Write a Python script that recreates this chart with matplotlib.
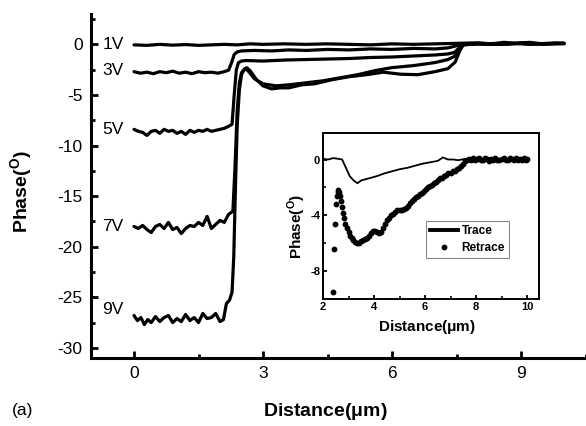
import numpy as np
import matplotlib
matplotlib.use("Agg")
import matplotlib.pyplot as plt
from matplotlib.lines import Line2D

plt.rcParams['font.family'] = ['Liberation Sans', 'DejaVu Sans']
plt.rcParams['mathtext.fontset'] = 'custom'
plt.rcParams['mathtext.rm'] = 'Liberation Sans'
plt.rcParams['mathtext.bf'] = 'Liberation Sans:bold'
plt.rcParams['axes.unicode_minus'] = False

# main panel: phase profiles at different tip voltages
x_1v = [0.0, 0.3, 0.6, 0.9, 1.2, 1.5, 1.8, 2.1, 2.4, 2.7, 3.0, 3.5, 4.0, 4.5, 5.0,
        5.5, 6.0, 6.5, 7.0, 7.5, 8.0, 8.3, 8.6, 8.9, 9.2, 9.5, 9.8, 10.0]
y_1v = [-0.05, -0.1, 0.0, -0.08, -0.02, -0.1, -0.05, 0.0, -0.05, 0.05, 0.0, 0.05, 0.0, 0.05, 0.0,
        -0.05, 0.05, 0.0, 0.05, 0.1, 0.15, 0.05, 0.2, 0.1, 0.2, 0.05, 0.15, 0.1]

x_3v = [0.0, 0.15, 0.3, 0.45, 0.6, 0.75, 0.9, 1.05, 1.2, 1.35, 1.5, 1.65, 1.8, 1.95, 2.1,
        2.2, 2.27, 2.33, 2.4, 2.5, 2.8, 3.2, 3.6, 4.0, 4.5, 5.0, 5.5, 6.0, 6.5, 7.0,
        7.3, 7.45, 7.6, 8.0, 8.4, 8.8, 9.2, 9.6, 10.0]
y_3v = [-2.7, -2.85, -2.75, -2.9, -2.7, -2.8, -2.65, -2.85, -2.75, -2.9, -2.7, -2.8, -2.75, -2.85, -2.7,
        -2.55, -1.8, -1.0, -0.75, -0.65, -0.6, -0.65, -0.55, -0.6, -0.5, -0.55, -0.45, -0.5, -0.4, -0.45,
        -0.35, -0.2, 0.0, 0.05, 0.0, 0.1, 0.0, 0.1, 0.05]

x_5v = [0.0, 0.1, 0.2, 0.3, 0.4, 0.5, 0.6, 0.7, 0.8, 0.9, 1.0, 1.1, 1.2, 1.3, 1.4, 1.5,
        1.6, 1.7, 1.8, 1.9, 2.0, 2.1, 2.2, 2.28, 2.33, 2.38, 2.43, 2.5, 2.6, 3.0, 3.5,
        4.0, 4.5, 5.0, 5.5, 6.0, 6.5, 7.0, 7.3, 7.45, 7.55, 7.65, 8.0, 8.5, 9.0, 9.5, 10.0]
y_5v = [-8.4, -8.6, -8.7, -9.0, -8.6, -8.5, -8.8, -8.4, -8.6, -8.5, -8.8, -8.6, -8.9, -8.5, -8.7, -8.5,
        -8.6, -8.4, -8.6, -8.5, -8.4, -8.3, -8.1, -7.9, -5.0, -2.5, -1.8, -1.65, -1.6, -1.65, -1.55,
        -1.5, -1.45, -1.4, -1.3, -1.25, -1.15, -1.05, -0.95, -0.8, -0.4, 0.0, 0.05, 0.0, 0.1, 0.05, 0.1]

x_7v = [0.0, 0.1, 0.2, 0.3, 0.4, 0.5, 0.6, 0.7, 0.8, 0.9, 1.0, 1.1, 1.2, 1.3, 1.4, 1.5,
        1.6, 1.7, 1.8, 1.9, 2.0, 2.1, 2.2, 2.3, 2.35, 2.4, 2.45, 2.5, 2.58, 2.65, 2.8,
        3.0, 3.3, 3.6, 4.0, 4.4, 4.8, 5.2, 5.6, 6.0, 6.5, 7.0, 7.3, 7.45, 7.55, 7.65,
        8.0, 8.5, 9.0, 9.5, 10.0]
y_7v = [-18.0, -18.2, -17.9, -18.3, -18.6, -18.0, -17.8, -18.2, -17.6, -18.3, -18.1, -18.7, -18.2, -17.9, -18.0, -17.6,
        -17.9, -17.0, -18.2, -17.8, -17.4, -17.6, -16.8, -16.5, -12.0, -6.5, -3.8, -2.8, -2.4, -2.6, -3.4,
        -3.9, -4.1, -4.0, -3.8, -3.6, -3.3, -3.0, -2.6, -2.3, -2.1, -1.8, -1.5, -1.2, -0.5, -0.05,
        0.05, 0.0, 0.1, 0.0, 0.1]

x_9v = [0.0, 0.08, 0.16, 0.24, 0.32, 0.4, 0.5, 0.6, 0.7, 0.8, 0.9, 1.0, 1.1, 1.2, 1.3, 1.4,
        1.5, 1.6, 1.7, 1.8, 1.9, 2.0, 2.08, 2.15, 2.22, 2.28, 2.32, 2.36, 2.4, 2.45, 2.5,
        2.56, 2.62, 2.7, 2.85, 3.0, 3.2, 3.4, 3.6, 3.9, 4.2, 4.6, 5.0, 5.4, 5.8, 6.2,
        6.6, 7.0, 7.3, 7.47, 7.58, 7.66, 8.0, 8.5, 9.0, 9.5, 10.0]
y_9v = [-26.8, -27.3, -27.0, -27.7, -27.2, -27.5, -26.9, -27.4, -27.0, -26.8, -27.5, -27.1, -27.4, -26.7, -27.3, -27.0,
        -27.5, -26.6, -27.1, -27.0, -26.6, -27.4, -27.2, -25.6, -25.3, -24.5, -21.0, -14.0, -8.0, -4.5, -3.0,
        -2.5, -2.3, -2.6, -3.5, -4.1, -4.4, -4.3, -4.3, -4.0, -3.9, -3.5, -3.2, -3.0, -2.75, -2.95,
        -3.0, -2.7, -2.4, -1.75, -0.6, -0.05, 0.1, 0.0, 0.15, 0.05, 0.1]

curves = [(x_1v, y_1v), (x_3v, y_3v), (x_5v, y_5v), (x_7v, y_7v), (x_9v, y_9v)]
volt_labels = ['1V', '3V', '5V', '7V', '9V']
volt_label_y = [0.0, -2.6, -8.4, -18.0, -26.2]

# inset: trace / retrace at one voltage
trace_x = [2.0, 2.2, 2.4, 2.6, 2.75, 2.9, 3.05, 3.2, 3.35, 3.5, 3.8, 4.1, 4.4, 4.7, 5.0,
           5.3, 5.6, 5.9, 6.2, 6.5, 6.7, 6.9, 7.1, 7.3, 7.6, 8.0, 8.5, 9.0, 9.5, 10.0]
trace_y = [0.05, 0.0, 0.1, 0.05, 0.0, -0.6, -1.2, -1.5, -1.7, -1.5, -1.35, -1.2, -1.0, -0.85, -0.7,
           -0.6, -0.45, -0.3, -0.2, -0.1, 0.15, 0.0, 0.0, -0.05, 0.05, 0.0, 0.1, 0.0, 0.05, 0.0]

retrace_x = [2.41, 2.44, 2.47, 2.50, 2.53, 2.57, 2.60, 2.63, 2.66, 2.70, 2.74, 2.78, 2.83, 2.88,
             2.94, 3.00, 3.06, 3.12, 3.18, 3.25, 3.32, 3.40, 3.48, 3.56, 3.64, 3.72, 3.80, 3.88,
             3.96, 4.04, 4.12, 4.20, 4.28, 4.36, 4.44, 4.52, 4.60, 4.68, 4.76, 4.84, 4.92, 5.00,
             5.08, 5.16, 5.24, 5.32, 5.40, 5.48, 5.56, 5.64, 5.72, 5.80, 5.88, 5.96, 6.04, 6.12,
             6.20, 6.28, 6.36, 6.44, 6.52, 6.60, 6.68, 6.76, 6.84, 6.92, 7.00, 7.08, 7.16, 7.24,
             7.32, 7.40, 7.48, 7.56, 7.64, 7.72, 7.80, 7.88, 7.96, 8.04, 8.12, 8.20, 8.28, 8.36,
             8.44, 8.52, 8.60, 8.68, 8.76, 8.84, 8.92, 9.00, 9.08, 9.16, 9.24, 9.32, 9.40, 9.48,
             9.56, 9.64, 9.72, 9.80, 9.88, 9.96, 10.0]
retrace_y = [-9.5, -6.4, -4.6, -3.2, -2.6, -2.3, -2.2, -2.3, -2.6, -3.0, -3.4, -3.8, -4.2, -4.6,
             -4.9, -5.2, -5.5, -5.65, -5.8, -5.9, -6.0, -5.95, -5.85, -5.8, -5.7, -5.6, -5.45, -5.3,
             -5.15, -5.1, -5.2, -5.25, -5.2, -4.9, -4.6, -4.35, -4.2, -4.0, -3.9, -3.75, -3.65, -3.6,
             -3.6, -3.55, -3.45, -3.3, -3.15, -3.0, -2.85, -2.7, -2.6, -2.5, -2.4, -2.25, -2.1, -2.0,
             -1.9, -1.8, -1.7, -1.6, -1.45, -1.35, -1.3, -1.2, -1.1, -1.0, -0.95, -0.85, -0.8, -0.7,
             -0.6, -0.45, -0.3, -0.1, 0.0, 0.05, -0.05, 0.1, 0.0, 0.05, 0.1, -0.05, 0.0, 0.1,
             0.05, -0.1, 0.05, 0.0, 0.1, -0.05, 0.0, 0.05, 0.1, 0.0, -0.05, 0.1, 0.05, 0.0,
             0.1, 0.0, 0.05, -0.05, 0.1, 0.0, 0.05]

fig = plt.figure(figsize=(5.86, 4.26), dpi=100)
ax = fig.add_axes([91 / 586, 1 - 358 / 426, 494.5 / 586, 344 / 426])

for (xs, ys) in curves:
    ax.plot(xs, ys, color='black', lw=2.3, solid_joinstyle='round', solid_capstyle='round')

for lab, yv in zip(volt_labels, volt_label_y):
    ax.text(-0.73, yv, lab, fontsize=12.5, ha='left', va='center')

ax.set_xlim(-1, 10.5)
ax.set_ylim(-31, 3)
ax.set_xticks([0, 3, 6, 9])
ax.set_xticks([1.5, 4.5, 7.5, 10.5], minor=True)
ax.set_yticks([0, -5, -10, -15, -20, -25, -30])
ax.set_yticks([2.5, -2.5, -7.5, -12.5, -17.5, -22.5, -27.5], minor=True)
ax.spines['top'].set_visible(False)
ax.spines['right'].set_visible(False)
for s in ['left', 'bottom']:
    ax.spines[s].set_linewidth(2.2)
ax.tick_params(which='major', direction='in', length=5, width=2, labelsize=12.5, pad=6)
ax.tick_params(which='minor', direction='in', length=3, width=2)

fig.text(325 / 586, 1 - 411 / 426, r'Distance($\mathbf{\mu}$m)', fontsize=14, fontweight='bold',
         ha='center', va='center')
fig.text(22 / 586, 1 - 192 / 426, r'Phase($^\mathbf{O}$)', fontsize=14, fontweight='bold',
         ha='center', va='center', rotation=90)
fig.text(12 / 586, 1 - 411 / 426, '(a)', fontsize=12.5, ha='left', va='center')

# inset
axi = fig.add_axes([323 / 586, 1 - 299 / 426, 216 / 586, 166 / 426])
axi.plot(trace_x, trace_y, color='black', lw=1.3)
axi.plot(retrace_x, retrace_y, 'o', color='black', ms=4.2, mew=0)
axi.set_xlim(2, 10.47)
axi.set_ylim(-10, 1.9)
axi.set_xticks([2, 4, 6, 8, 10])
axi.set_xticks([3, 5, 7, 9], minor=True)
axi.set_yticks([0, -4, -8])
axi.set_yticks([-2, -6], minor=True)
for s in axi.spines.values():
    s.set_linewidth(1.4)
axi.tick_params(which='major', direction='in', length=3, width=1.3, labelsize=8, pad=2)
axi.tick_params(which='minor', direction='in', length=2, width=1.2)
for t in axi.get_xticklabels() + axi.get_yticklabels():
    t.set_fontweight('bold')

fig.text(427 / 586, 1 - 327 / 426, r'Distance($\mathbf{\mu}$m)', fontsize=11, fontweight='bold',
         ha='center', va='center')
fig.text(297 / 586, 1 - 226 / 426, r'Phase($^\mathbf{O}$)', fontsize=11, fontweight='bold',
         ha='center', va='center', rotation=90)

handles = [Line2D([], [], color='black', lw=2.8),
           Line2D([], [], ls='none', marker='o', color='black', ms=4.2, mew=0)]
leg = axi.legend(handles, ['Trace', 'Retrace'], loc='lower left', bbox_to_anchor=(0.475, 0.245),
                 fancybox=False, framealpha=1, edgecolor='#888888', prop={'weight': 'bold', 'size': 8.5},
                 handlelength=2.4, handletextpad=0.3, borderpad=0.35, labelspacing=0.4,
                 borderaxespad=0)
leg.get_frame().set_linewidth(0.8)

fig.savefig('out.png', dpi=100)
